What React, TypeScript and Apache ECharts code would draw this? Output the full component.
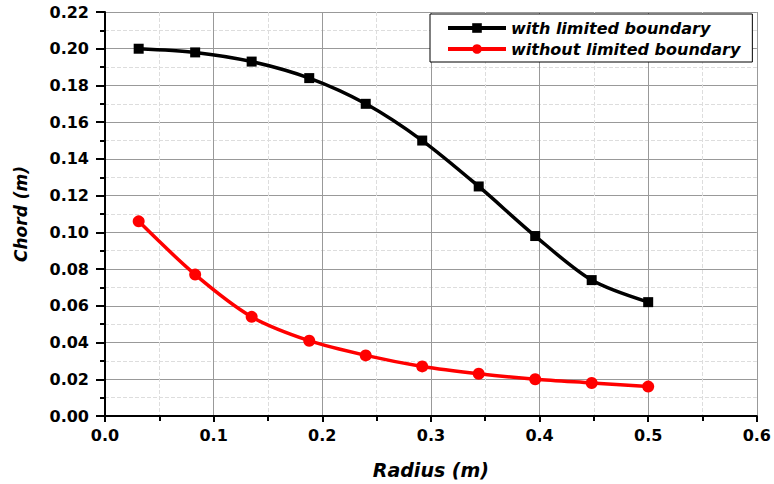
import React, { useEffect, useRef } from "react";
import * as echarts from "echarts";

const radius = [0.031, 0.083, 0.135, 0.188, 0.24, 0.292, 0.344, 0.396, 0.448, 0.5];
const withBoundary = [0.2, 0.198, 0.193, 0.184, 0.17, 0.15, 0.125, 0.098, 0.074, 0.062];
const withoutBoundary = [0.106, 0.077, 0.054, 0.041, 0.033, 0.027, 0.023, 0.02, 0.018, 0.016];
const seriesNames = ["with limited boundary", "without limited boundary"];

export default function App() {
  const ref = useRef<HTMLDivElement>(null);
  useEffect(() => {
    if (!ref.current) return;
    const chart = echarts.init(ref.current, null, { renderer: "svg" });
    const font = "DejaVu Sans, Verdana, sans-serif";
    chart.setOption({
      animation: false,
      backgroundColor: "#fff",
      grid: { left: 105, right: 15, top: 12, bottom: 67 },
      legend: {
        left: 430,
        top: 14,
        orient: "vertical",
        backgroundColor: "#fff",
        borderColor: "#000",
        borderWidth: 1,
        borderRadius: 0,
        padding: [6, 12, 5, 16],
        itemGap: 5,
        itemWidth: 58,
        itemHeight: 12,
        lineStyle: { width: 4 },
        textStyle: { fontFamily: font, fontWeight: "bold", fontStyle: "italic", fontSize: 16, color: "#000" },
        data: seriesNames,
      },
      xAxis: {
        type: "value",
        min: 0,
        max: 0.6,
        interval: 0.1,
        name: "Radius (m)",
        nameLocation: "middle",
        nameGap: 44,
        nameTextStyle: { fontFamily: font, fontWeight: "bold", fontStyle: "italic", fontSize: 19, color: "#000" },
        axisLine: { onZero: false, lineStyle: { color: "#000", width: 2 } },
        axisTick: { show: true, inside: false, length: 6, lineStyle: { color: "#000", width: 2 } },
        minorTick: { show: true, splitNumber: 2, length: 5, lineStyle: { color: "#000", width: 2 } },
        axisLabel: {
          fontFamily: font, fontWeight: "bold", fontSize: 16, color: "#000", margin: 11,
          formatter: (v: number) => v.toFixed(1),
        },
        splitLine: { show: true, lineStyle: { color: "#999", width: 1 } },
        minorSplitLine: { show: true, lineStyle: { color: "#ddd", width: 1, type: "dashed" } },
      },
      yAxis: {
        type: "value",
        min: 0,
        max: 0.22,
        interval: 0.02,
        name: "Chord (m)",
        nameLocation: "middle",
        nameGap: 76,
        nameTextStyle: { fontFamily: font, fontWeight: "bold", fontStyle: "italic", fontSize: 17, color: "#000" },
        axisLine: { show: true, onZero: false, lineStyle: { color: "#000", width: 2 } },
        axisTick: { show: true, inside: false, length: 9, lineStyle: { color: "#000", width: 2 } },
        minorTick: { show: true, splitNumber: 2, length: 5, lineStyle: { color: "#000", width: 2 } },
        axisLabel: {
          fontFamily: font, fontWeight: "bold", fontSize: 16, color: "#000", margin: 16,
          formatter: (v: number) => v.toFixed(2),
        },
        splitLine: { show: true, lineStyle: { color: "#999", width: 1 } },
        minorSplitLine: { show: true, lineStyle: { color: "#ddd", width: 1, type: "dashed" } },
      },
      series: [
        {
          name: seriesNames[0],
          type: "line",
          smooth: 0.3,
          data: radius.map((r, i) => [r, withBoundary[i]]),
          symbol: "rect",
          symbolSize: 10,
          lineStyle: { color: "#000", width: 3.5 },
          itemStyle: { color: "#000" },
          z: 3,
        },
        {
          name: seriesNames[1],
          type: "line",
          smooth: 0.3,
          data: radius.map((r, i) => [r, withoutBoundary[i]]),
          symbol: "circle",
          symbolSize: 12,
          lineStyle: { color: "#ff0000", width: 3.5 },
          itemStyle: { color: "#ff0000" },
          z: 3,
        },
      ],
    });
    return () => chart.dispose();
  }, []);
  return <div ref={ref} style={{ width: 774, height: 484, position: "absolute", left: 0, top: 0 }} />;
}
